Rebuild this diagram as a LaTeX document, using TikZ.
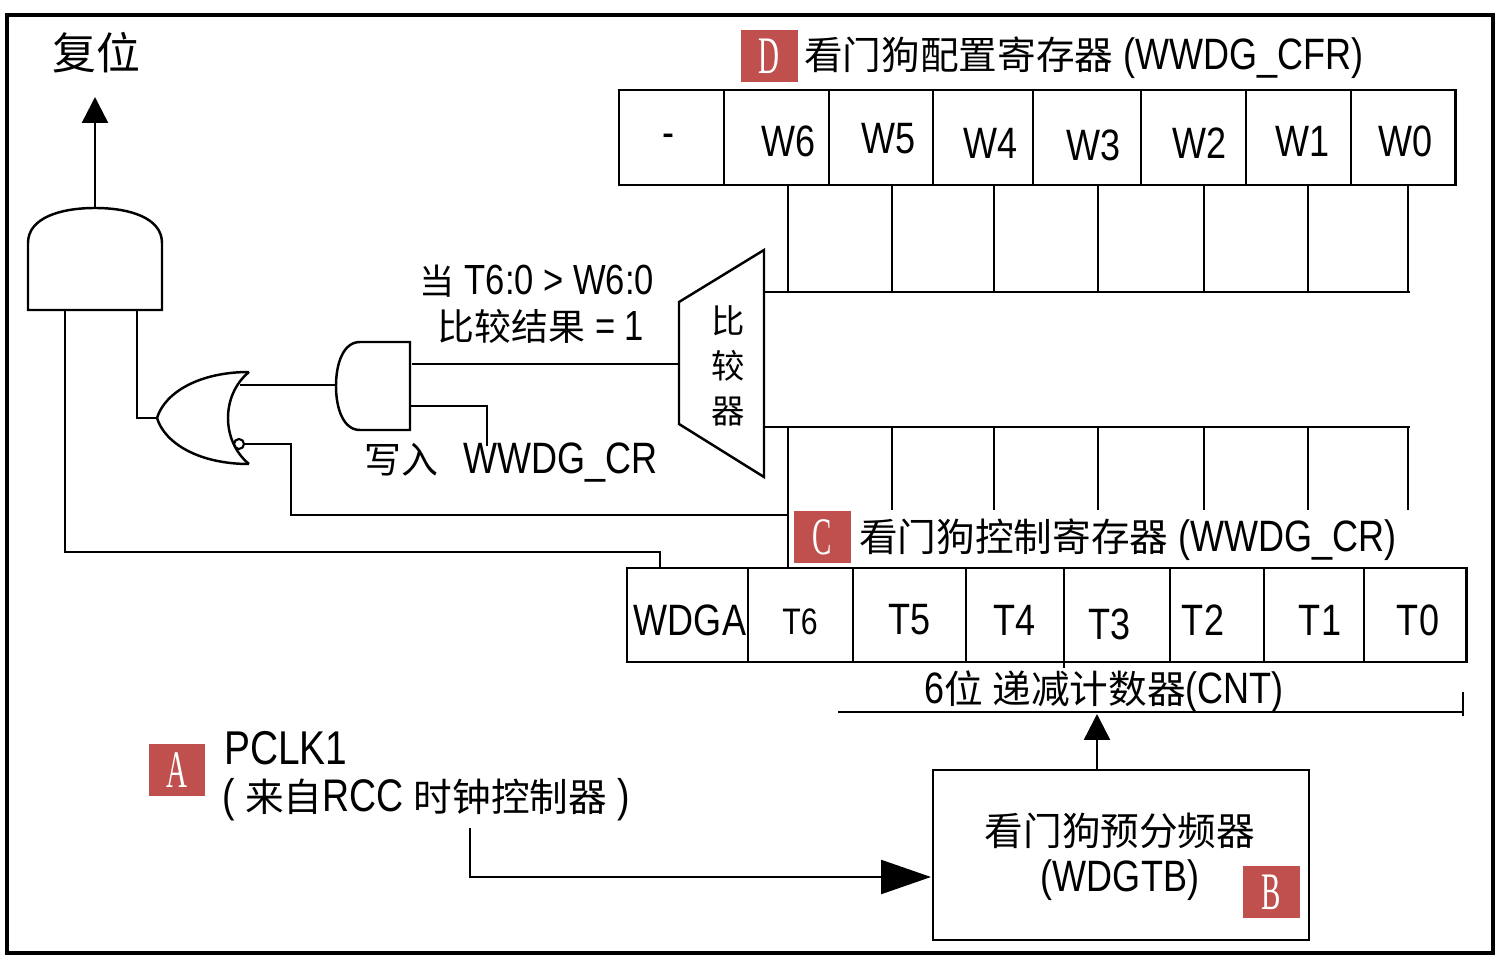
\documentclass[tikz,border=0pt]{standalone}
\usepackage{fontspec}
\setmainfont[FakeStretch=0.82]{Liberation Sans}
\newfontfamily\cjk{Noto Sans CJK SC}
\newfontfamily\bfnt[FakeStretch=0.55]{Liberation Serif}
\usetikzlibrary{arrows.meta}
\definecolor{badgered}{RGB}{192,80,77}
\newcommand{\zh}[2][22]{{\cjk\fontsize{#1}{#1}\selectfont #2}}
\begin{document}
\begin{tikzpicture}[x=0.02cm,y=-0.02cm,line width=1.4pt,
  badge/.style={fill=badgered,text=white,minimum width=1.14cm,minimum height=1.04cm,inner sep=0pt,font=\bfnt\fontsize{30}{30}\selectfont},
  txt/.style={inner sep=0pt,font=\fontsize{25}{25}\selectfont},
  reg/.style={line width=1.7pt},
  div/.style={line width=1.3pt},
  smalltri/.style={-{Triangle[length=0.52cm,width=0.52cm]}},
  bigtri/.style={-{Triangle[length=1cm,width=0.68cm]}}]
\useasboundingbox (0,0) rectangle (1499,959);
\draw[line width=1.8pt] (7,15) rectangle (1493,953);

% ---------- reset and AND gate ----------
\node[txt] (reset) at (96,53) {\zh[25]{复位}};
\coordinate (resettip) at (95,97);
\draw (28,310) -- (28,243) .. controls (28,218) and (60,208) .. (95,208)
      .. controls (130,208) and (162,218) .. (162,243) -- (162,310) -- cycle;
\coordinate (and1out) at (95,208);
\coordinate (and1inA) at (65,310);
\coordinate (and1inB) at (137,310);
\draw[smalltri] (and1out) -- (resettip);

% ---------- OR gate (pointing left) ----------
\draw (249,372) .. controls (221,395) and (221,441) .. (249,464);
\draw (249,372) .. controls (200,372) and (165,392) .. (157,418)
      .. controls (165,444) and (200,464) .. (249,464);
\coordinate (orout) at (157,418);
\coordinate (orinA) at (240,385);
\draw[line width=1.2pt] (239,444) circle[radius=0.1cm];
\coordinate (bubble) at (244,444);

% ---------- AND gate 2 (pointing left) ----------
\draw (410,342) -- (360,342) .. controls (343,342) and (336,364) .. (336,386)
      .. controls (336,408) and (343,430) .. (360,430) -- (410,430) -- cycle;
\coordinate (and2out) at (336,385);
\coordinate (and2inA) at (412,364);
\coordinate (and2inB) at (410,406);
\coordinate (wrcr) at (487,446);

% ---------- comparator ----------
\draw (679,302) -- (764,250) -- (764,477) -- (679,424) -- cycle;
\coordinate (cmpin) at (679,364);
\node[inner sep=0pt,align=center,font=\cjk\fontsize{19}{25.5}\selectfont] (cmp) at (728,366) {比\\较\\器};

% ---------- wires ----------
\draw (and1inB) |- (orout);
\draw (orinA) -- (and2out);
\draw (and2inA) -- (cmpin);
\draw (and2inB) -| (wrcr);
\coordinate (t6tap) at (788,515);
\draw (bubble) -| (291,515) -- (t6tap);
\coordinate (wdgatop) at (660,568);
\draw (and1inA) |- (660,552) -- (wdgatop);

% ---------- labels near gates ----------
\node[txt,font=\fontsize{24}{24}\selectfont] (cond1) at (537,281) {\zh[20]{当} T6:0 > W6:0};
\node[txt,font=\fontsize{24}{24}\selectfont] (cond2) at (541,326) {\zh[21]{比较结果} = 1};
\node[txt,font=\fontsize{25}{25}\selectfont] (wlabel) at (511,463) {\zh[21]{写入}\,\, WWDG\_CR};

% ---------- D register ----------
\node[badge] (D) at (769,56) {D};
\node[txt,anchor=west] (dtitle) at (803,58) {\zh{看门狗配置寄存器} (WWDG\_CFR)};
\draw[reg] (619,90) rectangle (1455,185);
\foreach \x in {724,829,933,1033,1141,1246,1351} \draw[div] (\x,90) -- (\x,185);
\foreach \t/\x/\y in {-/668/141,W6/789/141,W5/889/139,W4/991/143,W3/1094/145,W2/1200/143,W1/1303/141,W0/1406/141}
  \node[txt] (w\t) at (\x,\y) {\t};

% ---------- buses ----------
\foreach \x in {788,892,994,1098,1204,1308,1408} \draw (\x,185) -- (\x,292);
\draw (764,292) -- (1410,292);
\draw (764,427) -- (1410,427);
\foreach \x in {892,994,1098,1204,1308,1408} \draw (\x,427) -- (\x,510);
\draw (788,427) -- (788,568);

% ---------- C register ----------
\node[badge] (C) at (822,537) {C};
\node[txt,anchor=west] (ctitle) at (858,540) {\zh{看门狗控制寄存器} (WWDG\_CR)};
\draw[reg] (627,568) rectangle (1466,662);
\foreach \x in {748,853,966,1170,1264,1364} \draw[div] (\x,568) -- (\x,662);
\draw[div] (1064,568) -- (1064,668);
\foreach \t/\x/\y in {WDGA/690/620,T5/910/620,T4/1015/620,T3/1110/624,T2/1203/620,T1/1320/620,T0/1418/620}
  \node[txt] (c\t) at (\x,\y) {\t};
\node[txt,font=\fontsize{21}{21}\selectfont] (cT6) at (800,622) {T6};

% ---------- counter ----------
\node[txt] (cnt) at (1104,692) {6\zh{位} \zh{递减计数器}(CNT)};
\draw (838,712) -- (1463,712);
\draw (1463,692) -- (1463,716);

% ---------- prescaler ----------
\draw (933,770) rectangle (1309,940);
\node[txt] (pre1) at (1120,831) {\zh{看门狗预分频器}};
\node[txt] (pre2) at (1120,880) {(WDGTB)};
\node[badge] (B) at (1271,892) {B};
\draw[smalltri] (1097,770) -- (1097,714);

% ---------- PCLK1 ----------
\node[badge] (A) at (177,770) {A};
\node[txt,anchor=west,font=\fontsize{27}{27}\selectfont] (pclk) at (223,748) {PCLK1};
\node[txt,anchor=west,font=\fontsize{26}{26}\selectfont] (rcc) at (221,800) {( \zh{来自}RCC \zh{时钟控制器} )};
\coordinate (pclkstart) at (470,828);
\coordinate (pretarget) at (931,877);
\draw[bigtri] (pclkstart) |- (pretarget);
\end{tikzpicture}
\end{document}
